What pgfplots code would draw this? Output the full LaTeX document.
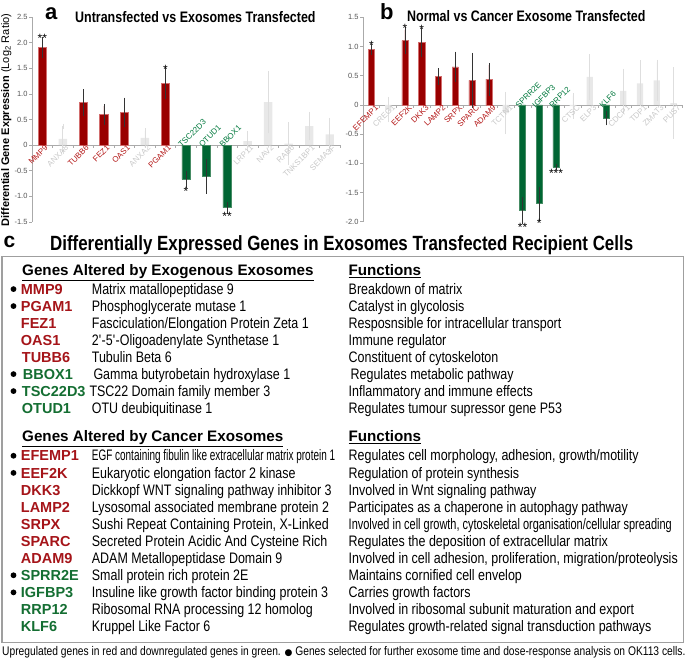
\documentclass[border=0pt]{standalone}
\usepackage{pgfplots}
\pgfplotsset{compat=1.18}
\usepackage{pgfplotstable}
\usepackage{graphicx}
\usepackage{fontspec}
\setmainfont{Liberation Sans}
\IfFontExistsTF{Liberation Sans Narrow}{\newfontfamily\narrow{Liberation Sans Narrow}}{\newfontfamily\narrow{Liberation Sans}[FakeStretch=0.82]}
\newfontfamily\sym{DejaVu Sans}
\definecolor{barred}{RGB}{153,0,0}
\definecolor{baredge}{RGB}{210,110,110}
\definecolor{bargreen}{RGB}{0,102,51}
\definecolor{greenedge}{RGB}{70,140,100}
\definecolor{bargray}{RGB}{232,232,232}
\definecolor{errgray}{RGB}{222,222,222}
\definecolor{labred}{RGB}{180,25,25}
\definecolor{labgreen}{RGB}{0,120,60}
\definecolor{labgray}{RGB}{200,200,200}
\definecolor{txtred}{RGB}{165,20,25}
\definecolor{txtgreen}{RGB}{20,110,50}
\definecolor{axgray}{RGB}{170,170,170}
\definecolor{tickgray}{RGB}{85,85,85}
\newcommand\fs[1]{\fontsize{#1}{#1}\selectfont}

% panel a data
\pgfplotstableread{
x y e
0 1.91 0.16
2 0.83 0.21
3 0.60 0.16
4 0.64 0.24
6 1.21 0.26
}\aRed
\pgfplotstableread{
x y e
7 -0.67 0.12
8 -0.61 0.29
9 -1.22 0.07
}\aGreen
\pgfplotstableread{
x y e
1 0.12 0.25
5 0.14 0.14
10 0.08 0.15
11 0.84 0.56
12 0.03 0.37
13 0.37 0.23
14 0.21 0.28
}\aGray
% panel b data
\pgfplotstableread{
x y e
0 0.95 0.05
2 1.10 0.19
3 1.07 0.21
4 0.49 0.10
5 0.65 0.22
6 0.42 0.43
7 0.44 0.24
}\bRed
\pgfplotstableread{
x y e
9 -1.81 0.19
10 -1.69 0.25
11 -1.07 0.01
14 -0.23 0.08
}\bGreen
\pgfplotstableread{
x y e
1 -0.08 0.18
8 -0.14 0.32
12 -0.02 0.18
13 0.48 0.35
15 0.24 0.34
16 0.37 0.35
17 0.42 0.31
18 0.03 0.57
}\bGray

\pgfplotsset{
  panel/.style={scale only axis, clip=false,
    axis y line=left, axis x line=middle,
    axis line style={-, draw=axgray, line width=0.6pt},
    tick style={draw=axgray, line width=0.6pt},
    major tick length=2.8pt, tick align=outside,
    hide obscured x ticks=false, hide obscured y ticks=false,
    xticklabels={},
    yticklabel style={font=\fs{7.5}, text=tickgray, inner sep=1.5pt}},
  err/.style={/pgfplots/error bars/y dir=both, /pgfplots/error bars/y explicit,
    /pgfplots/error bars/error bar style={draw=#1, line width=0.6pt},
    /pgfplots/error bars/error mark options={draw=#1, mark size=2.4pt, line width=0.6pt}},
}
\tikzset{labf/.style={font=\fs{8}, inner sep=0pt, rotate=45}}
\newcommand\lbA[3]{\node[labf, anchor=east, text=#3, xshift=2pt, yshift=-4pt] at (axis cs:#1,0) {#2};}
\newcommand\laA[3]{\node[labf, anchor=west, text=#3, xshift=-5pt, yshift=4pt] at (axis cs:#1,0) {#2};}
\newcommand\lbB[3]{\node[labf, anchor=east, text=#3, xshift=3pt, yshift=-5pt] at (axis cs:#1,0) {#2};}
\newcommand\laB[3]{\node[labf, anchor=west, text=#3, xshift=-5pt, yshift=3pt] at (axis cs:#1,0) {#2};}
\newcommand\stUp[3]{\node[anchor=south, inner sep=0pt, font=\fs{12}, yshift=-3.5pt] at (axis cs:#1,#2) {#3};}
\newcommand\stDn[3]{\node[anchor=north, inner sep=0pt, font=\fs{12}, yshift=-1pt] at (axis cs:#1,#2) {#3};}
% row: baseline, bullet, gene, colour, description, function, [gene x], [desc x], [func x]
\newcommand\growx[9]{%
  \ifnum#2=1 \fill (13.5,#1-5.2) circle[radius=2.9pt];\fi
  \node[anchor=base west, inner sep=0pt, text=#4, font=\bfseries\fs{14.5}] at (#7,#1) {#3};
  \node[anchor=base west, inner sep=0pt, font=\narrow\fs{15.2}] at (#8,#1) {#5};
  \node[anchor=base west, inner sep=0pt, font=\narrow\fs{15.2}] at (#9,#1) {#6};}
\newcommand\grow[6]{\growx{#1}{#2}{#3}{#4}{#5}{#6}{20.7}{91.7}{348.5}}

\begin{document}
\begin{tikzpicture}
\path[use as bounding box] (0,0) rectangle (685pt,660pt);

% ---------- panel a ----------
\begin{axis}[panel, at={(32pt,438pt)}, anchor=south west,
  width=308pt, height=205pt,
  xmin=-0.5, xmax=14.5, ymin=-1.5, ymax=2.5,
  xtick={-0.5,0.5,...,14.5},
  ytick={-1.5,-1,-0.5,0,0.5,1,1.5,2,2.5},
  yticklabels={-1.5,-1.0,-0.5,0,0.5,1.0,1.5,2.0,2.5}]
\addplot[ybar, bar width=8.4pt, bar shift=0pt, fill=bargray, draw=none, err=errgray] table[x=x,y=y,y error=e]{\aGray};
\addplot[ybar, bar width=8.4pt, bar shift=0pt, fill=barred, draw=baredge, line width=0.5pt, err=black!80] table[x=x,y=y,y error=e]{\aRed};
\addplot[ybar, bar width=8.4pt, bar shift=0pt, fill=bargreen, draw=greenedge, line width=0.5pt, err=black!80] table[x=x,y=y,y error=e]{\aGreen};
\lbA{0}{MMP9}{labred}
\lbA{1}{ANXA8}{labgray}
\lbA{2}{TUBB6}{labred}
\lbA{3}{FEZ1}{labred}
\lbA{4}{OAS1}{labred}
\lbA{5}{ANXA2}{labgray}
\lbA{6}{PGAM1}{labred}
\laA{7}{TSC22D3}{labgreen}
\laA{8}{OTUD1}{labgreen}
\laA{9}{BBOX1}{labgreen}
\lbA{10}{LRP11}{labgray}
\lbA{11}{NAV2}{labgray}
\lbA{12}{RAB6}{labgray}
\lbA{13}{TNKS1BP1}{labgray}
\lbA{14}{SEMA3F}{labgray}
\stUp{0}{2.07}{**}
\stUp{6}{1.47}{*}
\stDn{7}{-0.79}{*}
\stDn{9}{-1.29}{**}
\end{axis}

% ---------- panel b ----------
\begin{axis}[panel, at={(363pt,438.3pt)}, anchor=south west,
  width=319pt, height=204.4pt,
  xmin=-0.5, xmax=18.5, ymin=-2, ymax=1.5,
  xtick={-0.5,0.5,...,18.5},
  ytick={-2,-1.5,-1,-0.5,0,0.5,1,1.5},
  yticklabels={-2.0,-1.5,-1.0,-0.5,0,0.5,1.0,1.5}]
\addplot[ybar, bar width=6.3pt, bar shift=0pt, fill=bargray, draw=none, err=errgray] table[x=x,y=y,y error=e]{\bGray};
\addplot[ybar, bar width=6.3pt, bar shift=0pt, fill=barred, draw=baredge, line width=0.5pt, err=black!80] table[x=x,y=y,y error=e]{\bRed};
\addplot[ybar, bar width=6.3pt, bar shift=0pt, fill=bargreen, draw=greenedge, line width=0.5pt, err=black!80] table[x=x,y=y,y error=e]{\bGreen};
\lbB{0}{EFEMP1}{labred}
\lbB{1}{CREG1}{labgray}
\lbB{2}{EEF2K}{labred}
\lbB{3}{DKK3}{labred}
\lbB{4}{LAMP2}{labred}
\lbB{5}{SRPX}{labred}
\lbB{6}{SPARC}{labred}
\lbB{7}{ADAM9}{labred}
\lbB{8}{TCTN1}{labgray}
\laB{9}{SPRR2E}{labgreen}
\laB{10}{IGFBP3}{labgreen}
\laB{11}{RRP12}{labgreen}
\lbB{12}{CTSC}{labgray}
\lbB{13}{ELP3}{labgray}
\laB{14}{KLF6}{labgreen}
\lbB{15}{CDCP1}{labgray}
\lbB{16}{TDP1}{labgray}
\lbB{17}{ZMAT3}{labgray}
\lbB{18}{PUS7}{labgray}
\stUp{0}{1.0}{*}
\stUp{2}{1.29}{*}
\stUp{3}{1.28}{*}
\stDn{9}{-2.0}{**}
\stDn{10}{-1.94}{*}
\stDn{11}{-1.08}{***}
\end{axis}

% ---------- text part (pixel coordinates, y downwards) ----------
\begin{scope}[x=1pt, y=-1pt, yshift=660pt]
\node[rotate=90, inner sep=0pt, font=\fs{11}] at (6.2,120) {\bfseries Differential Gene Expression \mdseries(Log\textsubscript{2} Ratio)};
\node[anchor=base west, inner sep=0pt, font=\bfseries\fs{22}] at (45,20) {a};
\node[anchor=base west, inner sep=0pt, font=\narrow\bfseries\fs{15.2}] at (75,22.7) {Untransfected vs Exosomes Transfected};
\node[anchor=base west, inner sep=0pt, font=\bfseries\fs{22}] at (380,19.3) {b};
\node[anchor=base west, inner sep=0pt, font=\narrow\bfseries\fs{15.2}] at (407,21.7) {Normal vs Cancer Exosome Transfected};
\node[anchor=base west, inner sep=0pt, font=\bfseries\fs{21}] at (3.3,247.7) {c};
\node[anchor=base west, inner sep=0pt, font=\narrow\bfseries\fs{20.6}] at (50,251) {Differentially Expressed Genes in Exosomes Transfected Recipient Cells};
\draw[draw=gray!75, line width=1.1pt] (2,256.7) rectangle (683.5,642.3);
% section 1
\node[anchor=base west, inner sep=0pt, font=\bfseries\fs{15.2}] at (22,275.3) {\underline{Genes Altered by Exogenous Exosomes}};
\node[anchor=base west, inner sep=0pt, font=\bfseries\fs{15.2}] at (348.3,275.3) {\underline{Functions}};
\grow{294.3}{1}{MMP9}{txtred}{Matrix matallopeptidase 9}{Breakdown of matrix}
\grow{311.3}{1}{PGAM1}{txtred}{Phosphoglycerate mutase 1}{Catalyst in glycolosis}
\grow{328.3}{0}{FEZ1}{txtred}{Fasciculation/Elongation Protein Zeta 1}{Resposnsible for intracellular transport}
\grow{345.3}{0}{OAS1}{txtred}{2\textquotesingle-5\textquotesingle-Oligoadenylate Synthetase 1}{Immune regulator}
\growx{362.3}{0}{TUBB6}{txtred}{Tubulin Beta 6}{Constituent of cytoskeloton}{21.7}{91.7}{348.5}
\growx{379.3}{1}{BBOX1}{txtgreen}{Gamma butyrobetain hydroxylase 1}{Regulates metabolic pathway}{22.7}{93.3}{350.5}
\growx{396.3}{1}{TSC22D3}{txtgreen}{TSC22 Domain family member 3}{Inflammatory and immune effects}{21.7}{89.3}{348.5}
\growx{413.3}{0}{OTUD1}{txtgreen}{OTU deubiquitinase 1}{Regulates tumour supressor gene P53}{21.7}{91.7}{348.5}
% section 2
\node[anchor=base west, inner sep=0pt, font=\bfseries\fs{15.2}] at (22,441.7) {\underline{Genes Altered by Cancer Exosomes}};
\node[anchor=base west, inner sep=0pt, font=\bfseries\fs{15.2}] at (348.3,441.7) {\underline{Functions}};
\grow{461}{1}{EFEMP1}{txtred}{\scalebox{0.80}[1]{EGF containing fibulin like extracellular matrix protein 1}}{Regulates cell morphology, adhesion, growth/motility}
\grow{478.1}{1}{EEF2K}{txtred}{Eukaryotic elongation factor 2 kinase}{Regulation of protein synthesis}
\grow{495.1}{0}{DKK3}{txtred}{Dickkopf WNT signaling pathway inhibitor 3}{Involved in Wnt signaling pathway}
\grow{512.2}{0}{LAMP2}{txtred}{Lysosomal associated membrane protein 2}{Participates as a chaperone in autophagy pathway}
\grow{529.3}{0}{SRPX}{txtred}{Sushi Repeat Containing Protein, X-Linked}{\scalebox{0.88}[1]{Involved in cell growth, cytoskeletal organisation/cellular spreading}}
\grow{546.4}{0}{SPARC}{txtred}{Secreted Protein Acidic And Cysteine Rich}{Regulates the deposition of extracellular matrix}
\grow{563.4}{0}{ADAM9}{txtred}{ADAM Metallopeptidase Domain 9}{Involved in cell adhesion, proliferation, migration/proteolysis}
\grow{580.5}{1}{SPRR2E}{txtgreen}{Small protein rich protein 2E}{Maintains cornified cell envelop}
\grow{597.6}{1}{IGFBP3}{txtgreen}{Insuline like growth factor binding protein 3}{Carries growth factors}
\grow{614.6}{0}{RRP12}{txtgreen}{Ribosomal RNA processing 12 homolog}{Involved in ribosomal subunit maturation and export}
\grow{631.7}{0}{KLF6}{txtgreen}{Kruppel Like Factor 6}{Regulates growth-related signal transduction pathways}
% footnote
\node[anchor=base west, inner sep=0pt, font=\narrow\fs{12.5}] at (2,656) {Upregulated genes in red and downregulated genes in green. {\sym\fs{9}●} Genes selected for further exosome time and dose-response analysis on OK113 cells.};
\end{scope}
\end{tikzpicture}
\end{document}
